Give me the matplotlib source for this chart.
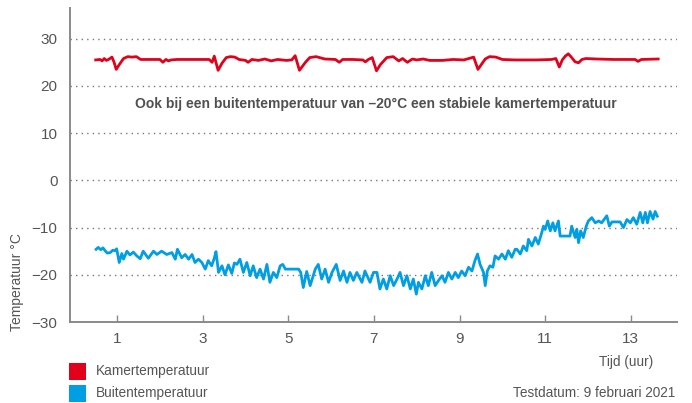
import matplotlib
matplotlib.use('Agg')
import matplotlib.pyplot as plt
from matplotlib.patches import Rectangle

plt.rcParams['font.family'] = ['Liberation Sans', 'DejaVu Sans']

# kamertemperatuur (uur, graden C)
kamer_t = [0.50, 0.60, 0.65, 0.70, 0.75, 0.80, 0.88, 0.93, 0.98, 1.05, 1.15, 1.25, 1.35, 1.45,
           1.55, 2.00, 2.07, 2.14, 2.20, 2.26, 2.40, 3.15, 3.22, 3.27, 3.36, 3.45, 3.55, 3.65,
           3.75, 3.85, 4.00, 4.06, 4.15, 4.30, 4.45, 4.60, 4.75, 4.95, 5.08, 5.16, 5.26, 5.40,
           5.50, 5.65, 5.85, 6.10, 6.19, 6.27, 6.50, 6.74, 6.80, 6.87, 6.96, 7.06, 7.15, 7.30,
           7.45, 7.58, 7.67, 7.78, 7.90, 8.00, 8.15, 8.30, 8.60, 8.85, 9.10, 9.33, 9.43, 9.60,
           9.70, 9.85, 10.00, 10.30, 10.80, 11.15, 11.25, 11.33, 11.40, 11.47, 11.54, 11.62,
           11.70, 11.78, 11.86, 11.95, 12.20, 12.60, 13.10, 13.17, 13.25, 13.64]
kamer = [25.5, 25.6, 25.3, 25.8, 25.4, 25.6, 26.1, 25.0, 23.5, 24.5, 25.8, 26.2, 26.1, 26.2,
         25.6, 25.6, 25.0, 25.6, 25.3, 25.5, 25.6, 25.6, 25.0, 26.3, 23.3, 24.8, 26.0, 26.2,
         26.1, 25.6, 25.4, 25.0, 25.6, 25.4, 25.7, 25.3, 25.6, 25.4, 25.5, 26.4, 23.3, 25.0,
         26.0, 26.2, 25.7, 25.6, 25.0, 25.6, 25.6, 25.5, 25.1, 25.6, 26.0, 23.2, 24.5, 26.0,
         26.2, 25.3, 25.8, 25.0, 25.7, 25.5, 25.7, 25.4, 25.4, 25.6, 25.5, 26.1, 23.5, 25.7,
         26.2, 26.1, 25.6, 25.5, 25.5, 25.6, 25.8, 24.0, 25.5, 26.3, 26.8, 26.0,
         25.1, 24.9, 25.6, 25.8, 25.7, 25.6, 25.6, 25.2, 25.6, 25.7]

# buitentemperatuur (uur, graden C)
buiten_t = [0.51, 0.56, 0.62, 0.67, 0.72, 0.77, 0.84, 0.90, 0.95, 0.99, 1.05, 1.11, 1.15, 1.23,
            1.30, 1.38, 1.46, 1.54, 1.61, 1.73, 1.85, 1.93, 2.04, 2.16, 2.28, 2.36, 2.41, 2.51,
            2.59, 2.67, 2.75, 2.82, 2.90, 2.98, 3.06, 3.13, 3.21, 3.27, 3.31, 3.37, 3.45, 3.52,
            3.60, 3.68, 3.74, 3.80, 3.87, 3.95, 4.03, 4.11, 4.18, 4.26, 4.34, 4.42, 4.50, 4.57,
            4.65, 4.73, 4.81, 4.87, 4.93, 5.24, 5.29, 5.35, 5.43, 5.51, 5.63, 5.70, 5.78, 5.86,
            5.94, 6.02, 6.12, 6.21, 6.29, 6.37, 6.44, 6.52, 6.60, 6.72, 6.79, 6.91, 6.99, 7.07,
            7.14, 7.22, 7.30, 7.38, 7.46, 7.54, 7.61, 7.69, 7.77, 7.85, 7.92, 7.99, 8.04, 8.12,
            8.20, 8.27, 8.35, 8.43, 8.51, 8.59, 8.66, 8.74, 8.82, 8.90, 8.97, 9.05, 9.13, 9.21,
            9.29, 9.36, 9.42, 9.48, 9.56, 9.60, 9.65, 9.71, 9.78, 9.83, 9.91, 9.99, 10.07, 10.14,
            10.22, 10.30, 10.34, 10.42, 10.49, 10.57, 10.61, 10.69, 10.77, 10.84, 10.92, 10.96,
            11.00, 11.06, 11.12, 11.18, 11.23, 11.31, 11.35, 11.58, 11.62, 11.70, 11.74, 11.78,
            11.83, 11.89, 11.96, 12.01, 12.09, 12.17, 12.25, 12.32, 12.44, 12.50, 12.56, 12.75,
            12.83, 12.91, 12.99, 13.06, 13.14, 13.22, 13.28, 13.34, 13.39, 13.45, 13.52, 13.57,
            13.62]
buiten = [-14.6, -14.2, -14.7, -14.3, -14.9, -15.4, -15.3, -14.8, -14.9, -14.5, -17.4, -15.5,
          -16.7, -15.0, -15.8, -15.2, -16.0, -16.6, -15.0, -16.5, -15.0, -15.7, -15.0, -15.7,
          -15.3, -16.7, -14.6, -16.4, -15.7, -16.7, -15.7, -17.4, -16.7, -17.4, -18.8, -17.0,
          -18.1, -16.5, -15.1, -19.5, -18.1, -20.0, -17.9, -19.7, -17.5, -17.8, -16.7, -19.5,
          -17.4, -20.2, -18.1, -20.6, -18.8, -20.9, -17.8, -21.6, -19.5, -20.6, -18.1, -17.8,
          -18.8, -18.8, -19.5, -22.7, -19.3, -22.3, -18.8, -17.8, -20.9, -18.8, -21.6, -19.5,
          -17.8, -21.2, -19.2, -21.6, -19.5, -21.2, -19.5, -21.6, -19.2, -21.6, -19.5, -19.5,
          -23.0, -20.9, -23.0, -20.2, -22.3, -20.9, -19.5, -22.3, -20.2, -23.0, -20.9, -24.1,
          -21.6, -23.0, -20.2, -22.3, -19.5, -22.3, -21.2, -20.2, -21.6, -19.5, -20.9, -19.5,
          -20.6, -19.2, -20.2, -18.4, -19.2, -17.0, -15.6, -17.8, -19.5, -22.3, -19.2, -18.1,
          -18.4, -16.0, -16.7, -15.6, -16.7, -14.9, -16.3, -14.6, -14.6, -15.6, -13.9, -14.9,
          -12.5, -13.9, -12.1, -13.5, -11.1, -9.7, -10.4, -8.6, -10.7, -9.0, -10.7, -8.6,
          -11.8, -11.8, -9.7, -12.1, -10.4, -13.2, -10.7, -12.1, -9.7, -8.6, -7.9, -9.0,
          -8.6, -9.0, -7.5, -9.7, -8.8, -8.8, -10.0, -8.3, -9.0, -7.9, -9.3, -6.8, -9.0,
          -6.8, -9.0, -6.6, -8.2, -6.6, -7.6]

x_ticks = [1, 3, 5, 7, 9, 11, 13]
y_ticks = [-30, -20, -10, 0, 10, 20, 30]

rood = '#e3001b'
blauw = '#009fe3'
grijs = '#555555'

fig = plt.figure(figsize=(6.92, 4.03), dpi=100)
ax = fig.add_axes([70 / 692, 81 / 403, 607 / 692, 314 / 403])

for y in y_ticks[1:]:
    ax.axhline(y, color='#777777', lw=1.0, ls=(0, (1, 3)), zorder=1)

ax.plot(kamer_t, kamer, color=rood, lw=2.0, zorder=3)
ax.plot(buiten_t, buiten, color=blauw, lw=2.0, zorder=3)

ax.set_xlim(-0.1, 14.08)
ax.set_ylim(-30, 36.5)
ax.set_xticks(x_ticks)
ax.set_yticks(y_ticks)
ax.set_yticklabels(['\u221230', '\u221220', '\u221210', '0', '10', '20', '30'])

for s in ['top', 'right']:
    ax.spines[s].set_visible(False)
for s in ['left', 'bottom']:
    ax.spines[s].set_color('#8a8a8a')
    ax.spines[s].set_linewidth(1.4)

ax.tick_params(axis='x', direction='in', length=5, width=1, color='#8a8a8a',
               labelsize=11, labelcolor=grijs, pad=7)
ax.tick_params(axis='y', length=0, labelsize=11, labelcolor=grijs, pad=9)

ax.set_ylabel('Temperatuur \u00b0C', fontsize=10, color=grijs, va='center')
ax.yaxis.set_label_coords(-0.087, 0.127)

ax.text(0.504, 0.694, 'Ook bij een buitentemperatuur van \u201320\u00b0C een stabiele kamertemperatuur',
        transform=ax.transAxes, ha='center', va='center', fontsize=10,
        fontweight='bold', color='#505050')

fig.text(653 / 692, 1 - 362 / 403, 'Tijd (uur)', ha='right', va='center',
         fontsize=9.8, color=grijs)
fig.text(675 / 692, 1 - 393 / 403, 'Testdatum: 9 februari 2021', ha='right', va='center',
         fontsize=9.8, color=grijs)

# legenda onder de grafiek
for i, (kleur, naam) in enumerate([(rood, 'Kamertemperatuur'), (blauw, 'Buitentemperatuur')]):
    yc = 371 + 22 * i
    fig.add_artist(Rectangle((69 / 692, 1 - (yc + 8.5) / 403), 17 / 692, 17 / 403,
                             transform=fig.transFigure, color=kleur, lw=0))
    fig.text(96 / 692, 1 - yc / 403, naam, ha='left', va='center', fontsize=9.8, color=grijs)

fig.savefig('out.png', dpi=100)
